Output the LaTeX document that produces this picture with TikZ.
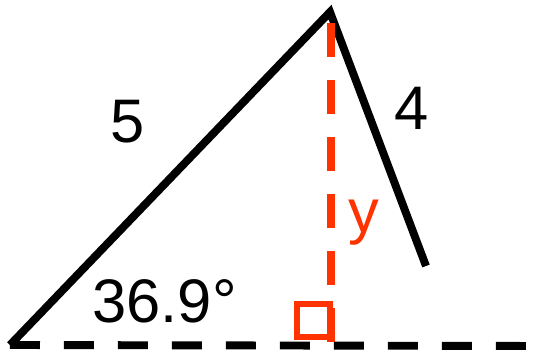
\documentclass[tikz,border=0pt]{standalone}
\usepackage{fontspec}
\setmainfont{Liberation Sans}
\usetikzlibrary{positioning}
\definecolor{hred}{RGB}{255,51,0}

\begin{document}
\begin{tikzpicture}[x=0.02cm, y=-0.02cm, line cap=butt,
      side/.style={draw=black, line width=4.5pt},
      baseln/.style={draw=black, line width=4.5pt, dash pattern=on 0.6cm off 0.48cm},
      height/.style={draw=hred, line width=4.5pt, dash pattern=on 0.68cm off 0.46cm},
      lbl/.style={font=\fontsize{35}{40}\selectfont, inner sep=0pt}]

    \useasboundingbox (0,0) rectangle (542,354);

    % corners of the triangle
    \coordinate (A) at (10,345);
    \coordinate (B) at (330,12);
    \coordinate (C) at (426,266);
    \coordinate (H) at (331,23);
    \coordinate (F) at (331,346);
    \coordinate (E) at (542,346);

    % dashed base line
    \draw[baseln] (A) -- (E);

    % the two sides
    \draw[side, line join=miter] (A) -- (B) -- (C);

    % height y with right-angle mark
    \draw[height] (H) -- (F);
    \draw[hred, line width=3.5pt] (297,304) rectangle (330,337);

    \node[lbl, anchor=base] (five) at (128,143) {5};
    \node[lbl, anchor=base] (four) at (412,130) {4};
    \node[lbl, anchor=base, text=hred] (yy) at (364,233) {y};
    \node[lbl, anchor=base west] (ang) at (92,323) {36.9°};

\end{tikzpicture}
\end{document}
